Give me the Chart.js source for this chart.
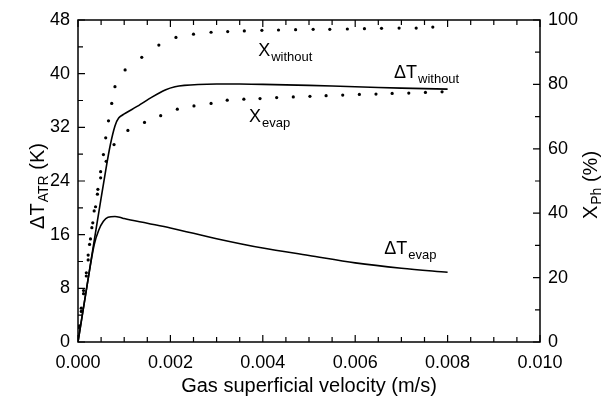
<!DOCTYPE html>
<html>
<head>
    <script src="https://cdn.jsdelivr.net/npm/chart.js"></script>
    <style>
        body { margin: 0; background: #fff; }
        #wrap { width: 607px; height: 403px; }
    </style>
</head>
<body>
    <div id="wrap">
        <canvas id="atrChart"></canvas>
    </div>

    <script>
        // Temperature rise (K) vs gas superficial velocity (m/s)
        const dtWithoutV = [0, 0.0002, 0.0004, 0.0006, 0.0007, 0.0008, 0.00088, 0.001, 0.0013, 0.0016, 0.0019, 0.0021, 0.0023, 0.0026, 0.003, 0.0035, 0.004, 0.005, 0.006, 0.007, 0.008];
        const dtWithout  = [0, 8.6, 17.2, 25.6, 29.4, 32.2, 33.4, 34.0, 35.2, 36.5, 37.6, 38.05, 38.25, 38.38, 38.45, 38.45, 38.4, 38.25, 38.05, 37.85, 37.7];

        const dtEvapV = [0, 0.0002, 0.00035, 0.00045, 0.00055, 0.00065, 0.0008, 0.0009, 0.001, 0.0015, 0.002, 0.003, 0.004, 0.005, 0.006, 0.007, 0.008];
        const dtEvap  = [0, 8.6, 14.5, 16.7, 18.0, 18.6, 18.7, 18.6, 18.4, 17.7, 17.0, 15.4, 14.0, 12.9, 11.8, 11.0, 10.4];

        // Conversion X_Ph (%) - dotted series
        const xWithoutV = [0.00003, 0.00007, 0.00012, 0.00018, 0.00022, 0.00027, 0.00032, 0.00038, 0.00043, 0.00049, 0.00055, 0.0006, 0.00066, 0.00073, 0.0008, 0.00102, 0.00138, 0.00175, 0.00212, 0.0025, 0.00288, 0.00324, 0.0036, 0.00398, 0.00434, 0.00471, 0.00509, 0.00545, 0.00583, 0.0062, 0.00657, 0.00695, 0.00732, 0.00768];
        const xWithout  = [5, 10.5, 16, 21.5, 27, 32, 37, 42, 47.4, 52.9, 58.2, 63.4, 68.7, 74.1, 79.3, 84.5, 88.4, 92.2, 94.6, 95.6, 96.2, 96.4, 96.6, 96.8, 96.9, 97.0, 97.1, 97.1, 97.2, 97.3, 97.4, 97.5, 97.5, 97.8];

        const xEvapV = [0.00003, 0.00007, 0.00012, 0.00018, 0.00022, 0.00025, 0.0003, 0.00035, 0.00042, 0.00049, 0.00061, 0.00078, 0.00108, 0.00144, 0.00179, 0.00215, 0.00251, 0.00288, 0.00323, 0.00359, 0.00394, 0.0043, 0.00466, 0.00502, 0.00537, 0.00573, 0.00609, 0.00645, 0.0068, 0.00716, 0.00752, 0.00788];
        const xEvap  = [4.5, 9.5, 15, 20.5, 25.5, 30.3, 35.5, 40.7, 45.9, 51.0, 56.1, 61.3, 65.7, 68.2, 70.3, 72.3, 73.3, 74.1, 75.1, 75.4, 75.6, 75.9, 76.1, 76.3, 76.5, 76.7, 76.9, 77.0, 77.2, 77.3, 77.5, 77.7];

        const pts = (xs, ys) => xs.map((x, i) => ({ x: x, y: ys[i] }));
        const FONT = '"Liberation Sans", Arial, Helvetica, sans-serif';

        // text with a subscript, anchored at left baseline
        function subText(ctx, x, y, main, sub, size, subSize, drop) {
            ctx.font = size + 'px ' + FONT;
            ctx.textAlign = 'left';
            ctx.textBaseline = 'alphabetic';
            ctx.fillText(main, x, y);
            const w = ctx.measureText(main).width;
            ctx.font = subSize + 'px ' + FONT;
            ctx.fillText(sub, x + w + 1, y + (drop !== undefined ? drop : size * 0.28));
            return w + 1 + ctx.measureText(sub).width;
        }

        function textWidth(ctx, main, sub, size, subSize, tail) {
            ctx.font = size + 'px ' + FONT;
            let w = ctx.measureText(main).width + ctx.measureText(tail).width + 1;
            ctx.font = subSize + 'px ' + FONT;
            return w + ctx.measureText(sub).width;
        }

        function rotatedTitle(ctx, cx, cy, main, sub, tail) {
            ctx.save();
            ctx.translate(cx, cy);
            ctx.rotate(-Math.PI / 2);
            const w = textWidth(ctx, main, sub, 20, 14, tail);
            let x0 = -w / 2;
            x0 += subText(ctx, x0, 0, main, sub, 20, 14, 4);
            ctx.font = '20px ' + FONT;
            ctx.textAlign = 'left';
            ctx.fillText(tail, x0, 0);
            ctx.restore();
        }

        const framePlugin = {
            id: 'frame',
            afterDatasetsDraw(chart) {
                const ctx = chart.ctx;
                const a = chart.chartArea;
                const sx = chart.scales.x, sy = chart.scales.y, sy2 = chart.scales.y2;
                ctx.save();
                ctx.strokeStyle = '#000';
                ctx.fillStyle = '#000';
                ctx.lineWidth = 1.5;
                ctx.strokeRect(a.left, a.top, a.right - a.left, a.bottom - a.top);

                ctx.lineWidth = 1.2;
                ctx.beginPath();
                // ticks point inward on all four sides
                for (let v = 0; v <= 0.01 + 1e-9; v += 0.0005) {
                    const px = sx.getPixelForValue(v);
                    const major = Math.abs(v / 0.002 - Math.round(v / 0.002)) < 1e-6;
                    const len = major ? 7 : 5;
                    ctx.moveTo(px, a.bottom); ctx.lineTo(px, a.bottom - len);
                    ctx.moveTo(px, a.top); ctx.lineTo(px, a.top + len);
                }
                for (let v = 0; v <= 48; v += 4) {
                    const py = sy.getPixelForValue(v);
                    ctx.moveTo(a.left, py); ctx.lineTo(a.left + (v % 8 === 0 ? 7 : 5), py);
                }
                for (let v = 0; v <= 100; v += 10) {
                    const py = sy2.getPixelForValue(v);
                    ctx.moveTo(a.right, py); ctx.lineTo(a.right - (v % 20 === 0 ? 7 : 5), py);
                }
                ctx.stroke();

                // curve labels
                subText(ctx, sx.getPixelForValue(0.0039), sy.getPixelForValue(42.6), 'X', 'without', 18, 13);
                subText(ctx, sx.getPixelForValue(0.00684), sy.getPixelForValue(39.4), '\u0394T', 'without', 18, 13);
                subText(ctx, sx.getPixelForValue(0.0037), sy.getPixelForValue(32.8), 'X', 'evap', 18, 13);
                subText(ctx, sx.getPixelForValue(0.00663), sy.getPixelForValue(13.1), '\u0394T', 'evap', 18, 13);

                // axis titles
                ctx.textAlign = 'center';
                ctx.textBaseline = 'alphabetic';
                ctx.font = '20px ' + FONT;
                ctx.fillText('Gas superficial velocity (m/s)', (a.left + a.right) / 2, 392);

                rotatedTitle(ctx, 44, 186, '\u0394T', 'ATR', ' (K)');
                rotatedTitle(ctx, 597, 185, 'X', 'Ph', ' (%)');

                ctx.restore();
            }
        };

        const dotStyle = { borderColor: '#000', backgroundColor: '#000', pointRadius: 1.6, pointBorderWidth: 0, showLine: false };

        new Chart(document.getElementById('atrChart'), {
            type: 'scatter',
            data: {
                datasets: [
                    { label: 'dT without', data: pts(dtWithoutV, dtWithout), yAxisID: 'y', borderColor: '#000', borderWidth: 1.6, pointRadius: 0, showLine: true, tension: 0.25 },
                    { label: 'dT evap', data: pts(dtEvapV, dtEvap), yAxisID: 'y', borderColor: '#000', borderWidth: 1.6, pointRadius: 0, showLine: true, cubicInterpolationMode: 'monotone' },
                    { label: 'X without', data: pts(xWithoutV, xWithout), yAxisID: 'y2', ...dotStyle },
                    { label: 'X evap', data: pts(xEvapV, xEvap), yAxisID: 'y2', ...dotStyle }
                ]
            },
            options: {
                responsive: true,
                maintainAspectRatio: false,
                animation: false,
                layout: { padding: { top: 20, left: 0, right: 0, bottom: 0 } },
                plugins: {
                    legend: { display: false },
                    tooltip: { enabled: false }
                },
                scales: {
                    x: {
                        type: 'linear',
                        min: 0, max: 0.01,
                        grid: { display: false, drawTicks: false },
                        border: { display: false },
                        ticks: {
                            stepSize: 0.002,
                            padding: 10,
                            maxRotation: 0,
                            color: '#000',
                            font: { family: FONT, size: 18 },
                            callback: v => v.toFixed(3)
                        },
                        afterFit(s) { s.height = 61; }
                    },
                    y: {
                        position: 'left',
                        min: 0, max: 48,
                        grid: { display: false, drawTicks: false },
                        border: { display: false },
                        ticks: { stepSize: 8, padding: 8, color: '#000', font: { family: FONT, size: 18 } },
                        afterFit(s) { s.width = 78; }
                    },
                    y2: {
                        position: 'right',
                        min: 0, max: 100,
                        grid: { display: false, drawTicks: false },
                        border: { display: false },
                        ticks: { stepSize: 20, padding: 8, color: '#000', font: { family: FONT, size: 18 } },
                        afterFit(s) { s.width = 67; }
                    }
                }
            },
            plugins: [framePlugin]
        });
    </script>
</body>
</html>
